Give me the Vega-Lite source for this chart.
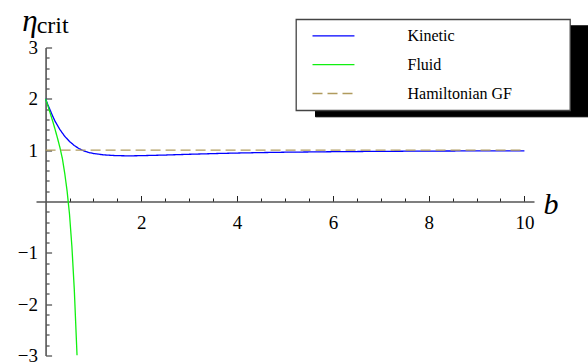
{
  "$schema": "https://vega.github.io/schema/vega-lite/v6.json",
  "width": 498,
  "height": 308,
  "autosize": {"type": "none"},
  "padding": {"left": 36, "top": 47.5, "right": 54, "bottom": 8.5},
  "background": "white",
  "title": {"text": "crit", "anchor": "start", "frame": "group", "orient": "top", "font": "Liberation Serif", "fontSize": 24, "fontWeight": "normal", "color": "black", "baseline": "alphabetic", "offset": 0, "dx": 0.7, "dy": 51.5},
  "data": {"values": [
    {"series": "Kinetic", "b": 0, "eta": 2.0},
    {"series": "Kinetic", "b": 0.05, "eta": 1.88},
    {"series": "Kinetic", "b": 0.1, "eta": 1.77},
    {"series": "Kinetic", "b": 0.15, "eta": 1.66},
    {"series": "Kinetic", "b": 0.2, "eta": 1.56},
    {"series": "Kinetic", "b": 0.3, "eta": 1.40},
    {"series": "Kinetic", "b": 0.4, "eta": 1.27},
    {"series": "Kinetic", "b": 0.5, "eta": 1.17},
    {"series": "Kinetic", "b": 0.6, "eta": 1.09},
    {"series": "Kinetic", "b": 0.7, "eta": 1.03},
    {"series": "Kinetic", "b": 0.8, "eta": 0.985},
    {"series": "Kinetic", "b": 0.9, "eta": 0.955},
    {"series": "Kinetic", "b": 1.0, "eta": 0.935},
    {"series": "Kinetic", "b": 1.2, "eta": 0.91},
    {"series": "Kinetic", "b": 1.4, "eta": 0.897},
    {"series": "Kinetic", "b": 1.6, "eta": 0.891},
    {"series": "Kinetic", "b": 1.8, "eta": 0.89},
    {"series": "Kinetic", "b": 2.0, "eta": 0.893},
    {"series": "Kinetic", "b": 2.5, "eta": 0.905},
    {"series": "Kinetic", "b": 3.0, "eta": 0.92},
    {"series": "Kinetic", "b": 3.5, "eta": 0.933},
    {"series": "Kinetic", "b": 4.0, "eta": 0.944},
    {"series": "Kinetic", "b": 4.5, "eta": 0.953},
    {"series": "Kinetic", "b": 5.0, "eta": 0.96},
    {"series": "Kinetic", "b": 6.0, "eta": 0.97},
    {"series": "Kinetic", "b": 7.0, "eta": 0.977},
    {"series": "Kinetic", "b": 8.0, "eta": 0.982},
    {"series": "Kinetic", "b": 9.0, "eta": 0.986},
    {"series": "Kinetic", "b": 10.0, "eta": 0.988},
    {"series": "Fluid", "b": 0, "eta": 2.0},
    {"series": "Fluid", "b": 0.05, "eta": 1.86},
    {"series": "Fluid", "b": 0.1, "eta": 1.71},
    {"series": "Fluid", "b": 0.15, "eta": 1.56},
    {"series": "Fluid", "b": 0.2, "eta": 1.40},
    {"series": "Fluid", "b": 0.25, "eta": 1.23},
    {"series": "Fluid", "b": 0.3, "eta": 1.05},
    {"series": "Fluid", "b": 0.35, "eta": 0.84},
    {"series": "Fluid", "b": 0.4, "eta": 0.55},
    {"series": "Fluid", "b": 0.45, "eta": 0.2},
    {"series": "Fluid", "b": 0.5, "eta": -0.25},
    {"series": "Fluid", "b": 0.55, "eta": -0.88},
    {"series": "Fluid", "b": 0.6, "eta": -1.72},
    {"series": "Fluid", "b": 0.657, "eta": -3.0},
    {"series": "Hamiltonian GF", "b": 0, "eta": 1.0},
    {"series": "Hamiltonian GF", "b": 10, "eta": 1.0}
  ]},
  "mark": {"type": "line", "strokeWidth": 1.3, "clip": true},
  "encoding": {
    "x": {
      "field": "b", "type": "quantitative",
      "scale": {"domain": [-0.2, 10.2], "nice": false, "zero": false},
      "axis": {
        "orient": "bottom", "offset": -154,
        "values": [0.5, 1, 1.5, 2, 2.5, 3, 3.5, 4, 4.5, 5, 5.5, 6, 6.5, 7, 7.5, 8, 8.5, 9, 9.5, 10],
        "labelExpr": "datum.value % 2 === 0 ? format(datum.value, 'd') : ''",
        "tickSize": {"condition": {"test": "datum.value % 2 === 0", "value": -6}, "value": -3.5},
        "tickColor": "#222", "tickWidth": 1,
        "domainColor": "#555", "domainWidth": 1.6,
        "labelFont": "Liberation Serif", "labelFontSize": 19, "labelColor": "black",
        "labelPadding": 18, "labelOverlap": false, "labelFlush": false,
        "grid": false,
        "title": "b", "titleX": 507, "titleY": 12, "titleAlign": "left", "titleBaseline": "alphabetic",
        "titleFont": "Liberation Serif", "titleFontSize": 30, "titleFontStyle": "italic", "titleFontWeight": "normal", "titleColor": "black", "titleAngle": 0
      }
    },
    "y": {
      "field": "eta", "type": "quantitative",
      "scale": {"domain": [-3, 3], "nice": false, "zero": false},
      "axis": {
        "orient": "left", "offset": -9.58,
        "values": [-3, -2.8, -2.6, -2.4, -2.2, -2, -1.8, -1.6, -1.4, -1.2, -1, -0.8, -0.6, -0.4, -0.2, 0.2, 0.4, 0.6, 0.8, 1, 1.2, 1.4, 1.6, 1.8, 2, 2.2, 2.4, 2.6, 2.8, 3],
        "labelExpr": "abs(datum.value - round(datum.value)) < 0.01 ? format(datum.value, 'd') : ''",
        "tickSize": {"condition": {"test": "abs(datum.value - round(datum.value)) < 0.01", "value": -6}, "value": -3.5},
        "tickColor": "#222", "tickWidth": 1,
        "domainColor": "#555", "domainWidth": 1.6,
        "labelFont": "Liberation Serif", "labelFontSize": 19, "labelColor": "black",
        "labelPadding": 14, "labelOverlap": false, "labelFlush": false,
        "grid": false,
        "title": "η", "titleX": -23.9, "titleY": -17, "titleAlign": "left", "titleBaseline": "alphabetic",
        "titleFont": "Liberation Serif", "titleFontSize": 31, "titleFontStyle": "italic", "titleFontWeight": "normal", "titleColor": "black", "titleAngle": 0
      }
    },
    "color": {
      "field": "series", "type": "nominal",
      "scale": {"domain": ["Kinetic", "Fluid", "Hamiltonian GF"], "range": ["#0000ff", "#10f010", "#b09b5e"]},
      "legend": {
        "orient": "none", "legendX": 260, "legendY": -28.2,
        "title": " ", "titleOrient": "right", "titlePadding": 49.5, "titleFontSize": 16,
        "labelFont": "Liberation Serif", "labelFontSize": 16, "labelColor": "black",
        "symbolType": "M0,0H8", "symbolSize": 110, "symbolStrokeWidth": 1.3,
        "labelOffset": 87, "padding": 8.5, "rowPadding": 12.85,
        "fillColor": "white", "strokeColor": "#444", "zindex": 2,
        "encode": {"legend": {"update": {"strokeWidth": {"value": 1.3}}}}
      }
    },
    "strokeDash": {
      "field": "series", "type": "nominal",
      "scale": {"domain": ["Kinetic", "Fluid", "Hamiltonian GF"], "range": [[1, 0], [1, 0], [10, 5]]},
      "legend": {
        "orient": "none", "legendX": 260, "legendY": -28.2,
        "title": " ", "titleOrient": "right", "titlePadding": 49.5, "titleFontSize": 16,
        "labelFont": "Liberation Serif", "labelFontSize": 16, "labelColor": "black",
        "symbolType": "M0,0H8", "symbolSize": 110, "symbolStrokeWidth": 1.3,
        "labelOffset": 87, "padding": 8.5, "rowPadding": 12.85,
        "fillColor": "white", "strokeColor": "#444", "zindex": 2,
        "encode": {"legend": {"update": {"strokeWidth": {"value": 1.3}}}}
      }
    },
    "opacity": {
      "field": "series", "type": "nominal",
      "scale": {"range": [1, 1]},
      "legend": {
        "orient": "none", "legendX": 279, "legendY": -22.2,
        "title": " ", "titleOrient": "right", "titlePadding": 153.9, "titleFontSize": 16,
        "labelExpr": "''",
        "labelFont": "Liberation Serif", "labelFontSize": 16, "labelColor": "black",
        "symbolType": "M0,0H8", "symbolSize": 110, "symbolStrokeWidth": 1.3, "symbolStrokeColor": "black",
        "labelOffset": 87, "padding": 8.5, "rowPadding": 12.85,
        "fillColor": "black", "strokeColor": "black", "zindex": 1
      }
    }
  },
  "config": {"view": {"stroke": null}}
}
